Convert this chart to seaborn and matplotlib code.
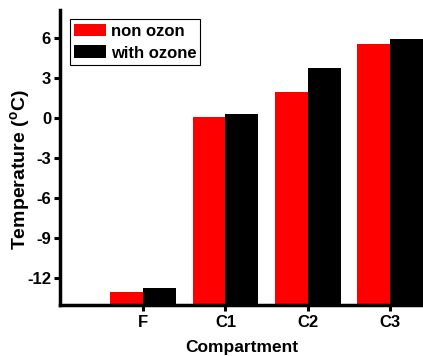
import matplotlib
matplotlib.use("Agg")
import matplotlib.pyplot as plt
import seaborn as sns
import pandas as pd

categories = ["F", "C1", "C2", "C3"]
non_ozon = [-13.0, 0.05, 1.97, 5.57]
with_ozone = [-12.7, 0.28, 3.77, 5.93]
series_names = ["non ozon", "with ozone"]
BASE = -14

sns.set_style("ticks", {"axes.edgecolor": "black", "xtick.color": "black",
                        "ytick.color": "black", "text.color": "black",
                        "axes.labelcolor": "black"})
plt.rcParams["font.family"] = ["Liberation Sans", "DejaVu Sans"]
plt.rcParams["font.weight"] = "bold"
plt.rcParams["mathtext.fontset"] = "custom"
plt.rcParams["mathtext.rm"] = "Liberation Sans:bold"
plt.rcParams["mathtext.default"] = "rm"

df = pd.DataFrame({
    "Compartment": categories * 2,
    "series": [series_names[0]] * 4 + [series_names[1]] * 4,
    "value": non_ozon + with_ozone,
})
# bars rise from the bottom of the axis, not from zero
df["height"] = df["value"] - BASE

fig = plt.figure(figsize=(4.23, 3.56), dpi=100)
ax = fig.add_axes([0.142, 0.143, 0.858, 0.829])
sns.barplot(data=df, x="Compartment", y="height", hue="series",
            palette=["#ff0000", "#000000"], saturation=1, width=0.8,
            linewidth=0, ax=ax)
for bar in ax.containers:
    for p in bar.patches:
        p.set_y(BASE)

ax.set_ylim(BASE, 8.1)
ax.set_xlim(-1.01, 3.4)
ax.set_yticks([-12, -9, -6, -3, 0, 3, 6])
ax.set_yticklabels(["-12", "-9", "-6", "-3", "0", "3", "6"])
ax.set_xlabel("Compartment", fontsize=12.5, fontweight="bold", labelpad=7)
ax.set_ylabel(r"Temperature ($^{o}$C)", fontsize=14, fontweight="bold")
ax.yaxis.set_label_coords(-0.077, 0.458)
ax.tick_params(axis="both", labelsize=12, width=2.2, length=4, direction="out",
               pad=2.5, color="black", labelcolor="black")
ax.tick_params(axis="x", pad=3)
for lab in ax.get_xticklabels() + ax.get_yticklabels():
    lab.set_fontweight("bold")

sns.despine(ax=ax)
for s in ["left", "bottom"]:
    ax.spines[s].set_linewidth(2.5)
    ax.spines[s].set_color("black")

leg = ax.legend(loc="upper left", bbox_to_anchor=(0.027, 0.968), fontsize=12,
                frameon=True, fancybox=False, edgecolor="black", framealpha=1,
                handlelength=1.9, handleheight=0.8, labelspacing=0.4,
                borderpad=0.25, handletextpad=0.3, borderaxespad=0)
leg.get_frame().set_linewidth(0.8)
for t in leg.get_texts():
    t.set_fontweight("bold")

fig.savefig("out.png", dpi=100)
